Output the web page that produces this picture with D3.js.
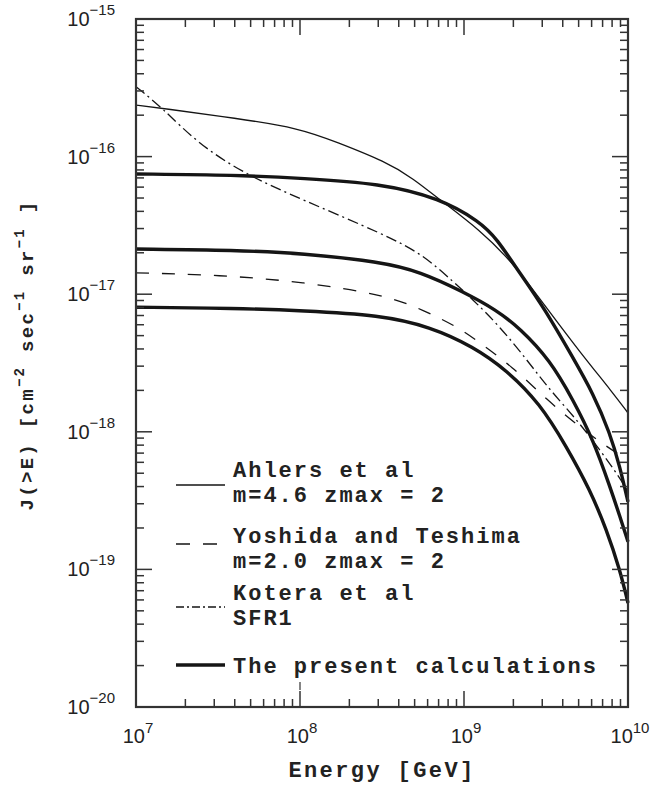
<!DOCTYPE html>
<html>
<head>
<meta charset="utf-8">
<script src="https://cdn.jsdelivr.net/npm/d3@7"></script>
<style>
  body { margin: 0; background: #fff; }
  svg { display: block; }
  .mono { font-family: "Courier New", "Liberation Mono", monospace; font-weight: bold; fill: #222; }
  .num { font-family: "Liberation Sans", Arial, sans-serif; fill: #222; }
</style>
</head>
<body>
<svg id="chart" width="650" height="788"></svg>
<script>
// tick exponents
let xExp = [7, 8, 9, 10];
let yExp = [-15, -16, -17, -18, -19, -20];

// Ahlers et al (thin solid)
let ahlersE = [1e7, 1.46e7, 4.07e7, 9.9e7, 1.66e8, 3.34e8, 4.89e8, 7.14e8, 1.25e9, 2.0e9, 3.19e9, 5.09e9, 8.11e9, 1e10];
let ahlersJ = [2.37e-16, 2.24e-16, 1.90e-16, 1.61e-16, 1.28e-16, 9.18e-17, 6.95e-17, 4.84e-17, 2.93e-17, 1.68e-17, 7.94e-18, 3.80e-18, 1.91e-18, 1.37e-18];

// Yoshida and Teshima (dashed)
let yoshidaE = [1e7, 3.22e7, 1.04e8, 3.34e8, 5.65e8, 9.02e8, 1.14e9, 1.99e9, 3.21e9, 5.09e9, 7.45e9, 1e10];
let yoshidaJ = [1.43e-17, 1.38e-17, 1.23e-17, 9.86e-18, 7.67e-18, 5.81e-18, 4.81e-18, 2.96e-18, 1.70e-18, 1.08e-18, 7.76e-19, 6.24e-19];

// Kotera et al SFR1 (dash-dot)
let koteraE = [1e7, 1.46e7, 2.32e7, 4.48e7, 1.04e8, 3.34e8, 5.65e8, 8.61e8, 1.14e9, 1.66e9, 2.42e9, 3.34e9, 4.89e9, 6.75e9, 8.93e9, 1e10];
let koteraJ = [3.22e-16, 2.24e-16, 1.28e-16, 7.57e-17, 4.84e-17, 2.69e-17, 1.93e-17, 1.23e-17, 9.08e-18, 5.78e-18, 3.33e-18, 2.01e-18, 1.22e-18, 7.38e-19, 4.62e-19, 3.66e-19];

// present calculations (thick), three curves
let topE = [1e7, 4.07e7, 1.04e8, 3.08e8, 7.14e8, 1.25e9, 1.58e9, 2.19e9, 3.05e9, 4.62e9, 6.12e9, 7.76e9, 8.93e9, 1e10];
let topJ = [7.48e-17, 7.35e-17, 6.95e-17, 6.39e-17, 4.98e-17, 3.36e-17, 2.55e-17, 1.42e-17, 8.11e-18, 3.45e-18, 1.91e-18, 9.80e-19, 5.55e-19, 3.09e-19];
let midE = [1e7, 4.07e7, 1.04e8, 3.08e8, 5.40e8, 9.91e8, 1.58e9, 2.19e9, 3.34e9, 4.63e9, 6.14e9, 7.76e9, 8.93e9, 1e10];
let midJ = [2.13e-17, 2.09e-17, 1.98e-17, 1.72e-17, 1.46e-17, 1.04e-17, 7.67e-18, 5.65e-18, 3.33e-18, 1.70e-18, 8.71e-19, 3.99e-19, 2.42e-19, 1.59e-19];
let botE = [1e7, 4.07e7, 1.04e8, 3.08e8, 6.21e8, 1.14e9, 1.82e9, 2.90e9, 4.23e9, 5.86e9, 7.41e9, 8.93e9, 1e10];
let botJ = [8.04e-18, 7.91e-18, 7.59e-18, 7.06e-18, 5.81e-18, 4.16e-18, 2.81e-18, 1.61e-18, 7.76e-19, 3.79e-19, 1.94e-19, 9.91e-20, 5.70e-20];

let legendText = [
    ["Ahlers et al", "m=4.6 zmax = 2"],
    ["Yoshida and Teshima", "m=2.0 zmax = 2"],
    ["Kotera et al", "SFR1"],
    ["The present calculations"]
];

let pLeft = 136, pRight = 628, pTop = 19, pBottom = 707;

let svg = d3.select("#chart");

let x = d3.scaleLog().domain([1e7, 1e10]).range([pLeft, pRight]);
let y = d3.scaleLog().domain([1e-20, 1e-15]).range([pBottom, pTop]);

let line = d3.line()
    .x(d => x(d[0]))
    .y(d => y(d[1]))
    .curve(d3.curveBasis);

let zip = (a, b) => a.map((v, i) => [v, b[i]]);

let series = [
    {E: ahlersE, J: ahlersJ, w: 1.3, dash: null},
    {E: yoshidaE, J: yoshidaJ, w: 1.3, dash: "13,13"},
    {E: koteraE, J: koteraJ, w: 1.3, dash: "11,4,2,4"},
    {E: topE, J: topJ, w: 3.4, dash: null},
    {E: midE, J: midJ, w: 3.4, dash: null},
    {E: botE, J: botJ, w: 3.4, dash: null}
];

svg.append("g").selectAll("path")
    .data(series)
    .join("path")
    .attr("d", d => line(zip(d.E, d.J)))
    .attr("fill", "none")
    .attr("stroke", "#151515")
    .attr("stroke-width", d => d.w)
    .attr("stroke-dasharray", d => d.dash);

// ticks (inward, on all four sides)
let isMajor = v => Math.abs(Math.log10(v) - Math.round(Math.log10(v))) < 1e-6;
let ticks = svg.append("g").attr("stroke", "#333").attr("stroke-width", 1.5);

x.ticks().forEach(v => {
    let len = isMajor(v) ? 16 : 8;
    ticks.append("line").attr("x1", x(v)).attr("x2", x(v)).attr("y1", pBottom).attr("y2", pBottom - len);
    ticks.append("line").attr("x1", x(v)).attr("x2", x(v)).attr("y1", pTop).attr("y2", pTop + len);
});
y.ticks().forEach(v => {
    let len = isMajor(v) ? 16 : 8;
    ticks.append("line").attr("x1", pLeft).attr("x2", pLeft + len).attr("y1", y(v)).attr("y2", y(v));
    ticks.append("line").attr("x1", pRight).attr("x2", pRight - len).attr("y1", y(v)).attr("y2", y(v));
});
// small stray mark above the 10^8 tick
ticks.append("line").attr("x1", x(1e8)).attr("x2", x(1e8)).attr("y1", pBottom - 25).attr("y2", pBottom - 17).attr("stroke-width", 1.2);

// frame
svg.append("rect")
    .attr("x", pLeft).attr("y", pTop)
    .attr("width", pRight - pLeft).attr("height", pBottom - pTop)
    .attr("fill", "none").attr("stroke", "#333").attr("stroke-width", 2.2);

// tick labels
let yLab = svg.append("g").attr("class", "num");
yExp.forEach(e => {
    let t = yLab.append("text")
        .attr("x", 115).attr("y", y(Math.pow(10, e)) + 7)
        .attr("text-anchor", "end");
    t.append("tspan").attr("font-size", 20).text("10");
    t.append("tspan").attr("font-size", 15).attr("dy", -11).text("\u2212" + Math.abs(e));
});
let xLab = svg.append("g").attr("class", "num");
xExp.forEach(e => {
    let t = xLab.append("text")
        .attr("x", x(Math.pow(10, e)) + 2).attr("y", 743)
        .attr("text-anchor", "middle");
    t.append("tspan").attr("font-size", 20).text("10");
    t.append("tspan").attr("font-size", 15).attr("dy", -10).text(e);
});

// axis titles
svg.append("text")
    .attr("class", "mono")
    .attr("x", (pLeft + pRight) / 2).attr("y", 777)
    .attr("text-anchor", "middle")
    .attr("font-size", 22).attr("letter-spacing", 2.4)
    .text("Energy [GeV]");

let yt = svg.append("text")
    .attr("class", "mono")
    .attr("transform", "translate(33,355) rotate(-90)")
    .attr("text-anchor", "middle")
    .attr("font-size", 19).attr("letter-spacing", 2.3);
yt.append("tspan").text("J(>E)  [cm");
yt.append("tspan").attr("font-size", 14).attr("dy", -9).text("\u22122");
yt.append("tspan").attr("dy", 9).text(" sec");
yt.append("tspan").attr("font-size", 14).attr("dy", -9).text("\u22121");
yt.append("tspan").attr("dy", 9).text(" sr");
yt.append("tspan").attr("font-size", 14).attr("dy", -9).text("\u22121");
yt.append("tspan").attr("dy", 9).text("  ]");

// legend
let legY = [485, 544, 607, 665];
let legTextY = [477, 543, 600, 673];
let legStyle = [
    {w: 1.3, dash: null},
    {w: 1.3, dash: "14,13"},
    {w: 1.3, dash: "8,3,2,3"},
    {w: 3.4, dash: null}
];
let leg = svg.append("g");
legendText.forEach((lines, i) => {
    leg.append("line")
        .attr("x1", 176).attr("x2", 225)
        .attr("y1", legY[i]).attr("y2", legY[i])
        .attr("stroke", "#151515")
        .attr("stroke-width", legStyle[i].w)
        .attr("stroke-dasharray", legStyle[i].dash);
    lines.forEach((s, j) => {
        leg.append("text")
            .attr("class", "mono")
            .attr("x", 233).attr("y", legTextY[i] + j * 25)
            .attr("font-size", 22).attr("letter-spacing", 2)
            .text(s);
    });
});
</script>
</body>
</html>
